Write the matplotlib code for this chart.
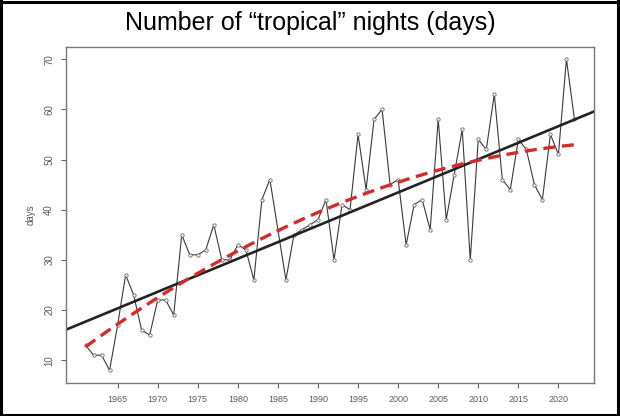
import numpy as np
import matplotlib
matplotlib.use('Agg')
import matplotlib.pyplot as plt
from matplotlib.lines import Line2D

years = np.arange(1961, 2023)
nights = [13, 11, 11, 8, 17, 27, 23, 16, 15, 22,
          22, 19, 35, 31, 31, 32, 37, 30, 30, 33,
          32, 26, 42, 46, 36, 26, 35, 36, 37, 38,
          42, 30, 41, 40, 55, 44, 58, 60, 45, 46,
          33, 41, 42, 36, 58, 38, 47, 56, 30, 54,
          52, 63, 46, 44, 54, 52, 45, 42, 55, 51,
          70, 58]
x_ticks = list(range(1965, 2021, 5))
y_ticks = list(range(10, 71, 10))
title = 'Number of \u201ctropical\u201d nights (days)'

plt.rcParams['font.family'] = ['Liberation Sans', 'DejaVu Sans']

fig = plt.figure(figsize=(6.2, 4.16), dpi=100)
W, H = 620, 416

# frame round the whole picture
for xs, ys in [([1, 1], [0, H]), ([0, W], [H - 1.5, H - 1.5]), ([W - 2, W - 2], [0, H]), ([0, W], [1, 1])]:
    fig.add_artist(Line2D([x / W for x in xs], [y / H for y in ys], color='black', lw=2.2))

fig.text(0.5, 1 - 23 / H, title, ha='center', va='center', fontsize=18)

ax = fig.add_axes([66 / W, 1 - 382.7 / H, (594 - 66) / W, (382.7 - 46.7) / H])

gray = '#5a5a5a'
ax.plot(years, nights, color='#3a3a3a', lw=0.8, marker='o', ms=2.4, mfc='white', mec='#666666', mew=0.6)

# linear trend across the whole plot
b1, b0 = np.polyfit(years, nights, 1)
xl = np.array([1958.56, 2024.44])
ax.plot(xl, b0 + b1 * xl, color='#222222', lw=1.9)

# curved trend
c = np.polyfit(years, nights, 2)
ax.plot(years, np.polyval(c, years), color='#d42a2a', lw=2.4, dashes=(3.6, 2.0))

ax.set_xlim(1958.56, 2024.44)
ax.set_ylim(5.52, 72.48)
ax.set_xticks(x_ticks)
ax.set_yticks(y_ticks)
ax.set_xticklabels([str(t) for t in x_ticks], fontsize=6.5, color=gray)
ax.set_yticklabels([str(t) for t in y_ticks], fontsize=7, color=gray, rotation=90, va='center')
ax.tick_params(direction='out', length=3.5, width=0.7, color=gray, pad=5)
ax.set_ylabel('days', fontsize=7, color=gray, labelpad=6)
for s in ax.spines.values():
    s.set_color('#777777')
    s.set_linewidth(1.0)

fig.savefig('out.png', dpi=100)
